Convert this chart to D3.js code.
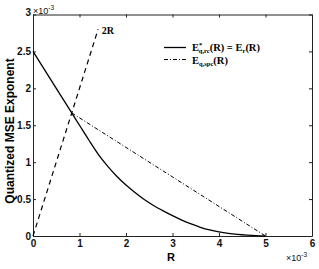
<!DOCTYPE html>
<html><head><meta charset="utf-8">
<script src="https://cdn.jsdelivr.net/npm/d3@7"></script>
<style>
body{margin:0;background:#fff;}
svg{display:block;}
</style></head>
<body>
<svg id="c" width="319" height="269"></svg>
<script>
const xTicks = [0,1,2,3,4,5,6];
const xTickLabels = ["0","1","2","3","4","5","6"];
const yTicks = [0,0.5,1,1.5,2,2.5,3];
const yTickLabels = ["0","0.5","1","1.5","2","2.5","3"];
// E_r(R) curve (x1e-3)
const rcR = [0,0.5,0.833,1.0,1.2,1.4,1.6,1.8,2.0,2.2,2.4,2.6,2.8,3.0,3.2,3.4,3.6,3.8,4.0,4.2,4.4,4.6,4.8,5.0];
const rcE = [2.5,2.0,1.667,1.5,1.3,1.11,0.95,0.81,0.69,0.585,0.49,0.41,0.34,0.275,0.215,0.163,0.118,0.082,0.055,0.035,0.021,0.011,0.004,0];
// E_q,spc(R)
const spcR = [0.833,5.0];
const spcE = [1.667,0];
// 2R line
const twoR = [0,1.4];
const twoE = [0,2.8];

const svg = d3.select("#c");
const x = d3.scaleLinear().domain([0,6]).range([33,312]);
const y = d3.scaleLinear().domain([0,3]).range([236,14.5]);
const axisColor = "#222";
const tickFont = "bold 10px 'Liberation Sans', Arial, sans-serif";

// axes
const gB = svg.append("g").attr("transform","translate(0,236)")
  .call(d3.axisBottom(x).tickValues(xTicks).tickSizeInner(-3).tickSizeOuter(0).tickPadding(4).tickFormat((d,i)=>xTickLabels[i]));
const gT = svg.append("g").attr("transform","translate(0,14.5)")
  .call(d3.axisTop(x).tickValues(xTicks).tickSizeInner(-3).tickSizeOuter(0).tickFormat(""));
const gL = svg.append("g").attr("transform","translate(33,0)")
  .call(d3.axisLeft(y).tickValues(yTicks).tickSizeInner(-3).tickSizeOuter(0).tickPadding(2).tickFormat((d,i)=>yTickLabels[i]));
const gR = svg.append("g").attr("transform","translate(312,0)")
  .call(d3.axisRight(y).tickValues(yTicks).tickSizeInner(-3).tickSizeOuter(0).tickFormat(""));
[gB,gT,gL,gR].forEach(g=>{
  g.select(".domain").attr("stroke",axisColor);
  g.selectAll(".tick line").attr("stroke",axisColor);
  g.selectAll("text").style("font",tickFont).attr("fill","#111");
});
gL.selectAll(".tick").filter(d=>d===3).select("text").attr("dy","0.05em");

// lines
svg.append("path").datum(rcR.map((r,i)=>[r,rcE[i]]))
  .attr("d",d3.line().x(d=>x(d[0])).y(d=>y(d[1])).curve(d3.curveMonotoneX))
  .attr("fill","none").attr("stroke","#000").attr("stroke-width",1.3);
svg.append("path").datum(spcR.map((r,i)=>[r,spcE[i]]))
  .attr("d",d3.line().x(d=>x(d[0])).y(d=>y(d[1]))).attr("fill","none").attr("stroke","#000").attr("stroke-width",1)
  .attr("stroke-dasharray","4,2,1,2");
svg.append("path").datum(twoR.map((r,i)=>[r,twoE[i]]))
  .attr("d",d3.line().x(d=>x(d[0])).y(d=>y(d[1]))).attr("fill","none").attr("stroke","#000").attr("stroke-width",1.2)
  .attr("stroke-dasharray","5,4");

// 2R label
svg.append("text").attr("x",x(1.48)).attr("y",y(2.77)+3)
  .style("font","bold 10px 'Liberation Serif', 'DejaVu Serif', serif").text("2R");

// exponent labels
function expLabel(xp,yp){
  const t = svg.append("text").attr("x",xp).attr("y",yp)
    .style("font","9px 'Liberation Sans', Arial, sans-serif").attr("fill","#111");
  t.append("tspan").text("\u00d710");
  t.append("tspan").attr("dy",-4).style("font-size","6.5px").text("-3");
}
expLabel(33,14);
expLabel(286,261);

// axis titles
svg.append("text").attr("x",171).attr("y",261).attr("text-anchor","middle")
  .style("font","bold 11px 'Liberation Sans', Arial, sans-serif").text("R");
svg.append("text").attr("transform","translate(14,131) rotate(-90)").attr("text-anchor","middle")
  .style("font","bold 12px 'Liberation Sans', Arial, sans-serif").text("Quantized MSE Exponent");

// legend
const lf = "bold 10.5px 'Liberation Serif', 'DejaVu Serif', serif";
svg.append("line").attr("x1",164).attr("x2",186).attr("y1",47.5).attr("y2",47.5).attr("stroke","#000").attr("stroke-width",1.3);
svg.append("line").attr("x1",164).attr("x2",186).attr("y1",59.5).attr("y2",59.5).attr("stroke","#000").attr("stroke-width",1).attr("stroke-dasharray","4,2,1,2");
const t1 = svg.append("text").attr("x",192).attr("y",50.5).style("font",lf);
t1.append("tspan").text("E");
t1.append("tspan").attr("dy",-4).style("font-size","6.5px").text("*");
t1.append("tspan").attr("dx",-3.5).attr("dy",6.5).style("font-size","6.5px").text("q,rc");
t1.append("tspan").attr("dy",-2.5).text("(R) = E");
t1.append("tspan").attr("dy",2).style("font-size","6.5px").text("r");
t1.append("tspan").attr("dy",-2).text("(R)");
const t2 = svg.append("text").attr("x",192).attr("y",63.5).style("font",lf);
t2.append("tspan").text("E");
t2.append("tspan").attr("dy",2).style("font-size","6.5px").text("q,spc");
t2.append("tspan").attr("dy",-2).text("(R)");
</script>
</body></html>
